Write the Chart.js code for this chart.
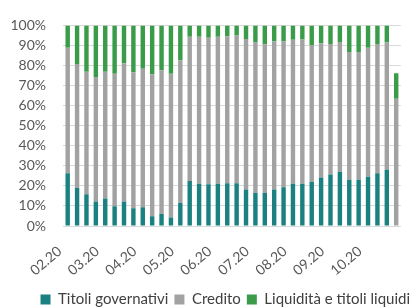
<!DOCTYPE html>
<html>
<head>
<meta charset="utf-8">
<script src="https://cdn.jsdelivr.net/npm/chart.js@4/dist/chart.umd.min.js"></script>
<style>
  html, body { margin: 0; padding: 0; background: #fff; overflow: hidden; }
  #wrap { width: 416px; height: 307px; }
</style>
</head>
<body>
<div id="wrap"><canvas id="quoteChart" width="416" height="307"></canvas></div>
<script>
// settimane dal 02.20, un'etichetta ogni quattro barre
const tickLabels = ['02.20', '03.20', '04.20', '05.20', '06.20', '07.20', '08.20', '09.20', '10.20'];
const categories = Array.from({ length: 36 }, (_, i) => 'S' + (i + 1));

const titoliGovernativi = [26.3, 19.0, 15.8, 12.2, 13.7, 9.8, 12.2, 8.8, 9.3, 4.9, 6.0, 4.2, 11.5, 22.4, 21.1, 20.8, 21.1,
    21.3, 21.3, 18.2, 16.4, 16.4, 18.2, 19.3, 21.0, 21.0, 22.1, 24.2, 25.7, 27.0, 23.1, 23.1, 24.6, 26.3, 28.1, 0];
const credito = [62.6, 61.8, 61.1, 62.1, 63.2, 66.1, 68.9, 67.9, 69.1, 70.7, 71.6, 71.7, 71.1, 71.9, 73.2, 73.0, 73.2,
    73.3, 73.7, 75.0, 75.3, 74.2, 73.8, 72.7, 71.8, 72.0, 68.1, 66.9, 65.0, 64.7, 63.7, 63.6, 64.3, 64.4, 63.4, 63.4];
const liquidita = [11.1, 19.2, 23.1, 25.7, 23.1, 24.1, 18.9, 23.3, 21.6, 24.4, 22.4, 24.1, 17.4, 5.7, 5.7, 6.2, 5.7,
    5.4, 5.0, 6.8, 8.3, 9.4, 8.0, 8.0, 7.2, 7.0, 9.8, 8.9, 9.3, 8.3, 13.2, 13.3, 11.1, 9.3, 8.5, 12.7];

document.addEventListener('DOMContentLoaded', () => {
    const ctx = document.getElementById('quoteChart').getContext('2d');
    const font = { family: 'Lato', size: 14 };

    new Chart(ctx, {
        type: 'bar',
        data: {
            labels: categories,
            datasets: [
                { label: 'Titoli governativi', data: titoliGovernativi, backgroundColor: '#1a8080' },
                { label: 'Credito', data: credito, backgroundColor: '#a2a2a2' },
                { label: 'Liquidità e titoli liquidi', data: liquidita, backgroundColor: '#3a9b48' }
            ]
        },
        options: {
            responsive: false,
            animation: false,
            layout: { padding: { top: 12, left: 0, right: 0, bottom: -10 } },
            datasets: { bar: { categoryPercentage: 1, barPercentage: 0.47 } },
            plugins: {
                tooltip: { enabled: false },
                legend: {
                    position: 'bottom',
                    align: 'end',
                    labels: {
                        boxWidth: 10, boxHeight: 10, padding: 6,
                        color: '#404040', font: { family: 'Lato', size: 15 }
                    }
                }
            },
            scales: {
                x: {
                    stacked: true,
                    grid: { display: false },
                    border: { display: false },
                    ticks: {
                        autoSkip: false, maxRotation: 40, minRotation: 40,
                        color: '#595959', font: font, padding: 9, labelOffset: -8,
                        callback: (v, i) => (i % 4 === 0 ? tickLabels[i / 4] : '')
                    },
                    afterFit: (scale) => { scale.height = 60; }
                },
                y: {
                    stacked: true,
                    min: 0, max: 100,
                    grid: { color: '#d9d9d9', drawTicks: false },
                    border: { display: false },
                    ticks: {
                        autoSkip: false, stepSize: 10, color: '#595959', font: font, padding: 17,
                        callback: (v) => v + '%'
                    },
                    afterFit: (scale) => { scale.width = 63; }
                }
            }
        }
    });
});
</script>
</body>
</html>
